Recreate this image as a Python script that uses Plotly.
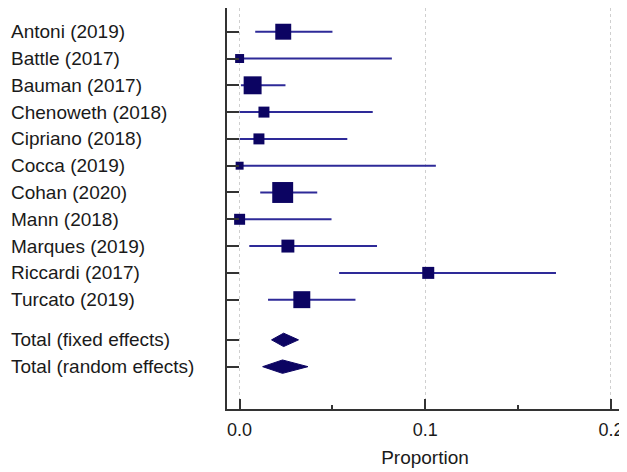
import plotly.graph_objects as go
import math

# ---- data ----
studies = ["Antoni (2019)", "Battle (2017)", "Bauman (2017)", "Chenoweth (2018)",
           "Cipriano (2018)", "Cocca (2019)", "Cohan (2020)", "Mann (2018)",
           "Marques (2019)", "Riccardi (2017)", "Turcato (2019)"]
estimate = [0.0235, 0.0000, 0.0070, 0.0131, 0.0104, 0.0000, 0.0232, 0.0000, 0.0260, 0.1016, 0.0335]
ci_low   = [0.0084, 0.0000, 0.0007, 0.0000, 0.0000, 0.0000, 0.0111, 0.0000, 0.0052, 0.0536, 0.0153]
ci_high  = [0.0500, 0.0820, 0.0247, 0.0717, 0.0580, 0.1057, 0.0418, 0.0495, 0.0740, 0.1704, 0.0624]
weight_pct = [12.0, 3.8, 15.2, 5.7, 5.7, 3.0, 20.7, 5.7, 7.9, 6.8, 13.6]

pooled_labels = ["Total (fixed effects)", "Total (random effects)"]
pooled_est  = [0.0237, 0.0231]
pooled_low  = [0.0172, 0.0124]
pooled_high = [0.0317, 0.0368]

x_ticks = [0.0, 0.1, 0.2]
x_tick_labels = ["0.0", "0.1", "0.2"]
x_minor_ticks = [0.05, 0.15]

# ---- layout helpers ----
study_pos = [i + 1 for i in range(len(studies))]
pooled_pos = [len(studies) + 1.5, len(studies) + 2.5]

SQ = "#0c0462"
LN = "#2e2a98"
TXT = "#1a1a1a"
AX = "#333333"
FONT = "Liberation Sans, Arial, sans-serif"

fig = go.Figure()

# CI lines
lx, ly = [], []
for lo, hi, p in zip(ci_low, ci_high, study_pos):
    lx += [lo, hi, None]
    ly += [p, p, None]
fig.add_trace(go.Scatter(x=lx, y=ly, mode="lines", line=dict(color=LN, width=2),
                         hoverinfo="skip", showlegend=False))

# squares
sizes = [4.6 * math.sqrt(w) for w in weight_pct]
fig.add_trace(go.Scatter(x=estimate, y=study_pos, mode="markers",
                         marker=dict(symbol="square", size=sizes, color=SQ, opacity=1,
                                     line=dict(width=0)),
                         showlegend=False))

# diamonds
h = 0.25
for lo, est, hi, p in zip(pooled_low, pooled_est, pooled_high, pooled_pos):
    fig.add_trace(go.Scatter(x=[lo, est, hi, est, lo], y=[p, p - h, p, p + h, p],
                             mode="lines", fill="toself", fillcolor=SQ,
                             line=dict(color=SQ, width=1), showlegend=False))

# labels
for lab, p in zip(studies + pooled_labels, study_pos + pooled_pos):
    fig.add_annotation(x=0, xref="paper", y=p, yref="y", text=lab, showarrow=False,
                       xanchor="left", xshift=-218, yanchor="middle",
                       font=dict(family=FONT, size=19, color=TXT))

fig.update_layout(
    width=619, height=464,
    margin=dict(l=219, r=4, t=0, b=63),
    paper_bgcolor="white", plot_bgcolor="white",
    font=dict(family=FONT, size=18, color=TXT),
    xaxis=dict(range=[-0.0068, 0.2065], tickvals=x_ticks, ticktext=x_tick_labels,
               automargin=False, ticklabelstandoff=3,
               ticks="inside", ticklen=10, tickwidth=2, tickcolor=AX,
               showline=True, linecolor=AX, linewidth=2,
               showgrid=True, gridcolor="#cfcfcf", griddash="dot", gridwidth=1,
               zeroline=False,
               minor=dict(tickvals=x_minor_ticks, ticks="inside", ticklen=4,
                          tickwidth=2, tickcolor=AX, showgrid=False),
               title=dict(text="Proportion", font=dict(size=19), standoff=12),
               tickfont=dict(size=18)),
    yaxis=dict(range=[15.08, 0.115], tickvals=study_pos + pooled_pos, automargin=False,
               ticks="inside", ticklen=12, tickwidth=2, tickcolor=AX,
               showticklabels=False, showline=True, linecolor=AX, linewidth=2,
               showgrid=False, zeroline=False),
)

fig.write_html("out.html")
